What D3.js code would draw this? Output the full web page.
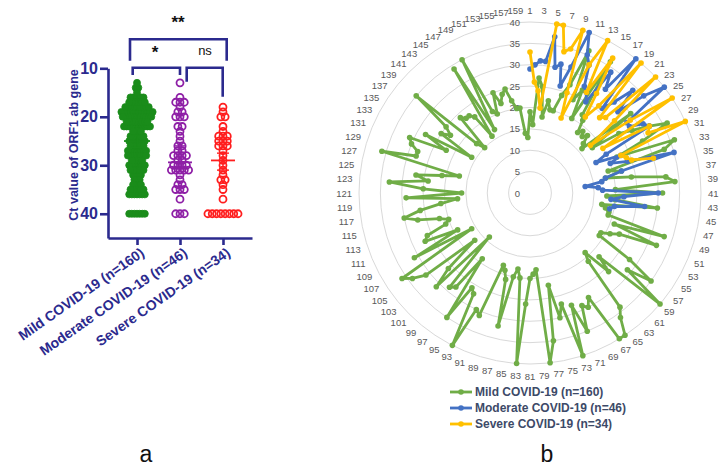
<!DOCTYPE html>
<html><head><meta charset="utf-8">
<script src="https://cdn.jsdelivr.net/npm/d3@7"></script>
<style>body{margin:0;background:#fff}svg{display:block}</style>
</head><body><svg id="c" width="722" height="468"></svg>
<script>
// ---------- DATA ----------
const groups = ["Mild COVID-19 (n=160)", "Moderate COVID-19 (n=46)", "Severe COVID-19 (n=34)"];
const mild = [19,16,27,25,18,22,20,20,24,27,36,24,27,20,36,22,21,18,19,18,
  19,17,16,30,18,25,28,32,36,29,22,36,33,19,22,18,24,32,34,20,
  31,18,20,30,17,18,19,19,33,21,32,23,21,19,19,28,35,29,40,22,
  26,19,21,34,36,40,40,28,30,29,35,28,40,27,30,22,35,40,18,19,
  20,26,40,20,18,20,32,21,19,18,31,30,40,27,26,35,19,28,29,14,
  31,26,17,31,34,36,16,31,19,27,26,21,20,22,27,30,26,21,17,29,
  16,25,33,24,27,21,17,36,28,28,30,31,22,28,16,25,23,25,35,17,
  15,24,23,23,22,16,34,17,35,21,20,25,22,24,25,22,20,20,14,13];
const moderate = [29,30,31,31,37,30,31,26,31,40,35,33,28,27,25,34,30,40,26,29,
  34,28,35,40,28,28,31,32,20,17,23,20,24,35,22,18,17,13,16,17,30,22,19,27,20,19];
const severe = [33,26,24,20,40,40,34,35,40,25,19,33,40,27,37,28,22,26,40,24,
  25,40,26,18,29,40,20,32,31,40,23,24,25,30];
const yTickValues = [10,20,30,40];
const radialTicks = [0,5,10,15,20,25,30,35,40];
const meanCt = [25, 29.4, 29];
const errLow = [23.8, 26, 27.5];
const errHigh = [26.3, 31.3, 31];
const sigLabels = ["**", "*", "ns"];
const panelLabels = ["a", "b"];
const axisTitle = "Ct value of ORF1 ab gene";

// ---------- SETUP ----------
const svg = d3.select("#c");
const navy = "#2B2A8E";
const dotColors = ["#1A8C1A", "#8E1FA6", "#FF1E1E"];
const radarColors = ["#70AD47", "#4472C4", "#FFC000"];
const datasets = [mild, moderate, severe];

// ---------- PANEL A ----------
const y = d3.scaleLinear().domain([10,45]).range([68.3,238]);
const x = d3.scalePoint().domain(groups).range([108,252]).padding(0.675);
const gA = svg.append("g");

const yAx = gA.append("g").attr("transform","translate(108,0)")
  .call(d3.axisLeft(y).tickValues(yTickValues).tickSize(8).tickSizeOuter(0).tickPadding(2));
yAx.selectAll("path,line").attr("stroke",navy).attr("stroke-width",2.6);
yAx.selectAll("text").attr("fill",navy).style("font","bold 16px 'Liberation Sans', Arial, sans-serif");

const xAx = gA.append("g").attr("transform","translate(0,238)")
  .call(d3.axisBottom(x).tickSize(7).tickSizeOuter(0));
xAx.selectAll("path,line").attr("stroke",navy).attr("stroke-width",2.6);
xAx.selectAll("text").attr("fill",navy)
  .style("font","bold 14px 'Liberation Sans', Arial, sans-serif")
  .attr("x",0).attr("y",0).attr("dy","0.35em")
  .attr("transform","translate(5,13) rotate(-35)")
  .style("text-anchor","end");

gA.append("text").attr("transform","translate(74,145) rotate(-90)")
  .attr("text-anchor","middle").attr("dominant-baseline","central")
  .attr("fill",navy).style("font","bold 12.5px 'Liberation Sans', Arial, sans-serif")
  .text(axisTitle);

// dots, row-based swarm
const spacing = [2.6, 4.3, 4.3];
datasets.forEach((arr,gi)=>{
  const rows = d3.group(arr, v=>Math.round(v));
  const pts = [];
  rows.forEach((vals)=>{
    const n = vals.length;
    vals.forEach((v,i)=>{
      const k = i===0?0:(i%2===1? Math.ceil(i/2) : -Math.ceil(i/2));
      const off = n%2===0 ? (i%2===0? -(Math.floor(i/2)+0.5) : (Math.floor(i/2)+0.5)) : k;
      pts.push({v, dx: off*spacing[gi]});
    });
  });
  const g = gA.append("g");
  g.selectAll("circle").data(pts).join("circle")
    .attr("cx",d=>x(groups[gi])+d.dx).attr("cy",d=>y(d.v)).attr("r",3.5)
    .attr("fill", gi===0? dotColors[0] : "none")
    .attr("stroke",dotColors[gi]).attr("stroke-width", gi===0?0.8:1.8);
  const cxg = x(groups[gi]);
  const mw = gi===0?13:12;
  g.append("line").attr("x1",cxg-mw).attr("x2",cxg+mw).attr("y1",y(meanCt[gi])).attr("y2",y(meanCt[gi]))
    .attr("stroke",dotColors[gi]).attr("stroke-width",1.8);
  g.append("line").attr("x1",cxg).attr("x2",cxg).attr("y1",y(errLow[gi])).attr("y2",y(errHigh[gi]))
    .attr("stroke",dotColors[gi]).attr("stroke-width",1.4);
  [errLow[gi],errHigh[gi]].forEach(v=>{
    g.append("line").attr("x1",cxg-6).attr("x2",cxg+6).attr("y1",y(v)).attr("y2",y(v))
      .attr("stroke",dotColors[gi]).attr("stroke-width",1.4);
  });
});

// significance brackets
const br = gA.append("g").attr("fill","none").attr("stroke",navy).attr("stroke-width",2.6);
br.append("path").attr("d",`M130,60.7V39.3H226.7V60.7`);
br.append("path").attr("d",`M132.7,75V67.7H180V75`);
br.append("path").attr("d",`M186.7,81.7V67.7H222.7V96.7`);
gA.append("text").attr("x",178).attr("y",28).attr("text-anchor","middle")
  .style("font","bold 17px 'Liberation Sans', Arial, sans-serif").attr("fill","#111").text(sigLabels[0]);
gA.append("text").attr("x",155).attr("y",58).attr("text-anchor","middle")
  .style("font","bold 17px 'Liberation Sans', Arial, sans-serif").attr("fill","#111").text(sigLabels[1]);
gA.append("text").attr("x",205).attr("y",55).attr("text-anchor","middle")
  .style("font","13px 'Liberation Sans', Arial, sans-serif").attr("fill","#111").text(sigLabels[2]);

// ---------- PANEL B (radar) ----------
const cx = 530, cy = 193, R = 171;
const nCat = mild.length;
const rS = d3.scaleLinear().domain([0,40]).range([0,R]);
const ang = d3.scaleLinear().domain([1,nCat+1]).range([0,2*Math.PI]);
const gB = svg.append("g").attr("transform",`translate(${cx},${cy})`);

gB.selectAll("circle.grid").data(radialTicks.filter(t=>t>0)).join("circle")
  .attr("class","grid").attr("r",d=>rS(d)).attr("fill","none")
  .attr("stroke","#D9D9D9").attr("stroke-width",1);

const lbFont = "9.5px 'Liberation Sans', Arial, sans-serif";
gB.selectAll("text.rt").data(radialTicks).join("text").attr("class","rt")
  .attr("x",-10).attr("y",d=>-rS(d)).attr("text-anchor","end").attr("dominant-baseline","central")
  .attr("fill","#595959").style("font",lbFont).text(d=>d);

const cats = d3.range(1,nCat+1).filter(i=>i%2===1);
gB.selectAll("text.cat").data(cats).join("text").attr("class","cat")
  .each(function(d){
    const a = ang(d), s = Math.sin(a), c = Math.cos(a);
    const w = String(d).length*5.3, h = 10;
    const rr = R+7;
    d3.select(this).attr("x", rr*s + s*w/2).attr("y", -rr*c - c*h/2);
  })
  .attr("text-anchor","middle").attr("dominant-baseline","central")
  .attr("fill","#595959").style("font",lbFont).text(d=>d);

datasets.forEach((arr,si)=>{
  const pts = arr.map((v,i)=>({cat:i+1, v}));
  const line = d3.lineRadial().angle(d=>ang(d.cat)).radius(d=>rS(d.v))
    .curve(si===0? d3.curveLinearClosed : d3.curveLinear);
  gB.append("path").datum(pts).attr("d",line).attr("fill","none")
    .attr("stroke",radarColors[si]).attr("stroke-width",2.8).attr("stroke-linejoin","round");
  gB.append("g").selectAll("circle").data(pts).join("circle")
    .attr("cx",d=>rS(d.v)*Math.sin(ang(d.cat))).attr("cy",d=>-rS(d.v)*Math.cos(ang(d.cat)))
    .attr("r",2.8).attr("fill",radarColors[si]);
});

// legend
const lg = svg.append("g");
groups.forEach((g,i)=>{
  const yy = 392 + i*16;
  lg.append("line").attr("x1",450).attr("x2",472).attr("y1",yy).attr("y2",yy)
    .attr("stroke",radarColors[i]).attr("stroke-width",2.8);
  lg.append("circle").attr("cx",461).attr("cy",yy).attr("r",2.8).attr("fill",radarColors[i]);
  lg.append("text").attr("x",475).attr("y",yy).attr("dominant-baseline","central")
    .attr("fill","#3D4A68").style("font","bold 12px 'Liberation Sans', Arial, sans-serif").text(g);
});

// panel labels
svg.append("text").attr("x",146).attr("y",462).attr("text-anchor","middle")
  .style("font","23px 'Liberation Sans', Arial, sans-serif").attr("fill","#111").text(panelLabels[0]);
svg.append("text").attr("x",547).attr("y",462).attr("text-anchor","middle")
  .style("font","23px 'Liberation Sans', Arial, sans-serif").attr("fill","#111").text(panelLabels[1]);
</script></body></html>
